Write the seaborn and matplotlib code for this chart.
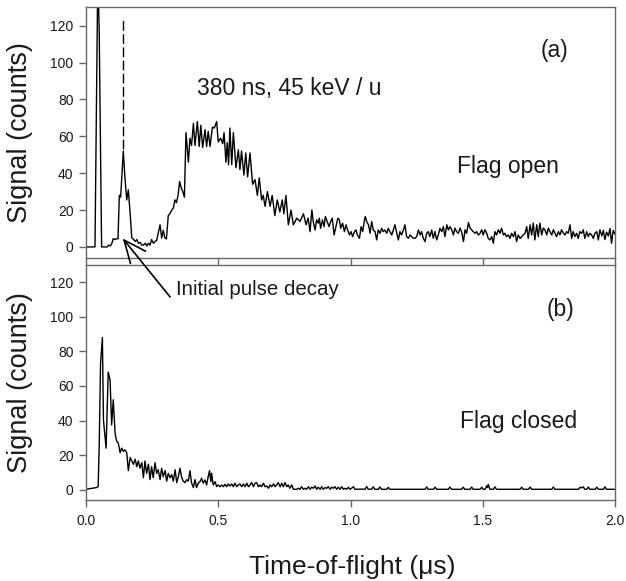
import numpy as np
import pandas as pd
import matplotlib
matplotlib.use("Agg")
import matplotlib.pyplot as plt
import seaborn as sns
from matplotlib.patches import ConnectionPatch

# ---------------- data (time in µs, signal in counts) ----------------
open_early = [
    (0.000, 0), (0.034, 0), (0.044, 140), (0.047, 135), (0.050, 116), (0.059, 0),
    (0.070, 0), (0.080, 0), (0.086, 1), (0.092, 0.5), (0.098, 2), (0.103, 4.5),
    (0.110, 4), (0.116, 4.5), (0.121, 4.4), (0.126, 28), (0.131, 27), (0.136, 40),
    (0.141, 52), (0.147, 38), (0.154, 25.5), (0.160, 31), (0.167, 18), (0.173, 5),
    (0.179, 4.2), (0.186, 3), (0.192, 4), (0.198, 2), (0.205, 2.5), (0.211, 1),
    (0.217, 1), (0.224, 2), (0.230, 0.5), (0.236, 2), (0.242, 1), (0.248, 4),
    (0.255, 2), (0.261, 3), (0.267, 3.5), (0.273, 7.5), (0.280, 12), (0.286, 4.8),
    (0.292, 9), (0.298, 5), (0.304, 4.3), (0.311, 17), (0.317, 18), (0.324, 20),
    (0.330, 21), (0.336, 25.5), (0.342, 24), (0.348, 28), (0.354, 35.5), (0.360, 32),
    (0.366, 30), (0.372, 27),
]
open_peak = [
    (0.378, 62), (0.387, 46), (0.393, 59), (0.399, 55), (0.406, 67), (0.412, 55),
    (0.421, 68), (0.428, 54.5), (0.434, 66), (0.441, 54), (0.450, 63.6), (0.456, 54.5),
    (0.462, 62.7), (0.469, 54.5), (0.478, 65), (0.485, 64.5), (0.494, 68), (0.500, 57),
    (0.509, 59), (0.517, 56), (0.522, 62), (0.529, 46), (0.534, 56.5), (0.539, 44.6),
    (0.544, 64.5), (0.551, 44.6), (0.557, 62), (0.567, 43), (0.576, 52.7), (0.582, 42),
    (0.588, 52), (0.597, 39), (0.604, 51), (0.611, 38), (0.620, 51), (0.630, 34),
    (0.639, 36.5), (0.648, 28), (0.655, 37.5), (0.664, 25.5), (0.670, 28), (0.677, 22),
    (0.686, 30), (0.696, 22), (0.704, 28), (0.714, 17), (0.723, 25.5), (0.733, 19),
    (0.742, 25.5), (0.748, 18), (0.756, 28), (0.765, 12), (0.775, 20), (0.784, 12),
    (0.797, 15.6), (0.809, 13.8), (0.822, 18), (0.832, 12), (0.840, 15.6), (0.847, 8.3),
]
open_tail1 = [
    (0.854, 20.1), (0.859, 13.8), (0.866, 9.2), (0.872, 14.7), (0.878, 12.9), (0.882, 15.6),
    (0.887, 10.1), (0.894, 14.7), (0.900, 11), (0.905, 16.5), (0.912, 13.8), (0.919, 11),
    (0.925, 13.8), (0.931, 15.6), (0.938, 6.5), (0.945, 11), (0.952, 15.6), (0.958, 14.7),
    (0.963, 10.1), (0.970, 12.9), (0.977, 8.3), (0.983, 12), (0.989, 9.2), (0.996, 6.5),
    (1.002, 8.3), (1.008, 5.6), (1.015, 8.3), (1.021, 9.2), (1.026, 6.5), (1.034, 4.7),
    (1.040, 11), (1.046, 8.3), (1.053, 14.7), (1.056, 16.5), (1.061, 13.8), (1.068, 12),
    (1.074, 7.4), (1.080, 13.8), (1.086, 9.2), (1.093, 8.3), (1.099, 3.8), (1.105, 9.2),
    (1.112, 7.4), (1.118, 10.1), (1.124, 8.3), (1.130, 9.2), (1.137, 7.4), (1.143, 10.1),
    (1.149, 8.3), (1.156, 6.5), (1.162, 9.2), (1.168, 12), (1.175, 7.4), (1.181, 3.8),
    (1.187, 8.3), (1.193, 6.5), (1.200, 9.2), (1.206, 12), (1.212, 5.6), (1.219, 4.7),
    (1.225, 6.5), (1.231, 5.6), (1.238, 4.7), (1.244, 4.7), (1.250, 5.6), (1.257, 9.2),
    (1.263, 6.5), (1.269, 8.3), (1.275, 4.7), (1.282, 2.9), (1.288, 7.4), (1.294, 8.3),
    (1.300, 5.6), (1.307, 9.2), (1.313, 4.7), (1.319, 8.3), (1.326, 3.8), (1.332, 6.5),
    (1.338, 10.1), (1.345, 8.3), (1.351, 11), (1.357, 5.6), (1.364, 12), (1.370, 9.2),
    (1.376, 11),
]
open_tail2 = [
    (1.383, 9.3), (1.389, 6.5), (1.395, 10.2), (1.401, 8.3), (1.408, 7.4), (1.414, 10.2),
    (1.420, 8.3), (1.427, 2.9), (1.433, 9.3), (1.439, 7.4), (1.446, 13.2), (1.452, 10.2),
    (1.458, 9.3), (1.464, 8.3), (1.471, 7.4), (1.477, 8.3), (1.483, 6.5), (1.490, 7.4),
    (1.496, 9.3), (1.502, 6.5), (1.508, 9.3), (1.515, 7.4), (1.521, 4.6), (1.527, 3.8),
    (1.534, 5.6), (1.540, 2), (1.546, 8.3), (1.552, 6.5), (1.559, 9.3), (1.565, 7.4),
    (1.571, 10.2), (1.578, 6.5), (1.584, 7.4), (1.590, 5.6), (1.597, 6.5), (1.603, 4.6),
    (1.609, 7.4), (1.616, 5.6), (1.622, 8.3), (1.628, 2.9), (1.634, 6.5), (1.641, 4.6),
    (1.647, 5.6), (1.653, 6.5), (1.660, 7.4), (1.666, 11.1), (1.672, 4.6), (1.679, 12),
    (1.685, 6.5), (1.691, 12.9), (1.697, 3.8), (1.704, 12), (1.710, 5.6), (1.716, 12.9),
    (1.723, 6.5), (1.729, 10.2), (1.735, 9.3), (1.742, 6.5), (1.748, 10.2), (1.754, 8.3),
    (1.761, 6.5), (1.767, 9.3), (1.773, 7.4), (1.779, 5.6), (1.786, 8.3), (1.792, 6.5),
    (1.798, 9.3), (1.805, 7.4), (1.811, 6.5), (1.817, 8.3), (1.823, 7.4), (1.830, 12),
    (1.836, 4.6), (1.842, 8.3), (1.848, 5.6), (1.855, 7.4), (1.861, 4.6), (1.867, 8.3),
    (1.874, 7.4), (1.880, 9.3), (1.886, 4.6), (1.893, 8.3), (1.899, 5.6), (1.905, 7.4),
    (1.912, 6.5), (1.918, 4.6), (1.924, 7.4), (1.931, 8.3), (1.937, 3.8), (1.943, 9.3),
    (1.950, 6), (1.956, 9), (1.962, 4), (1.968, 8), (1.975, 6), (1.981, 10),
    (1.987, 2), (1.993, 9), (2.000, 7),
]

closed_early = [
    (0.000, 0.2), (0.040, 1.2), (0.046, 1.8), (0.050, 25.9), (0.055, 73), (0.062, 88),
    (0.066, 40.3), (0.076, 24), (0.084, 68), (0.091, 63.4), (0.097, 37.5), (0.103, 52),
    (0.110, 32.6), (0.116, 28), (0.122, 27), (0.129, 21.4), (0.135, 24), (0.141, 22.2),
    (0.147, 23), (0.154, 21.4), (0.160, 11), (0.167, 18.6), (0.173, 16.6), (0.179, 14.7),
    (0.186, 17.6), (0.192, 13.3), (0.198, 16.6), (0.204, 12.4), (0.211, 15.6), (0.217, 6.9),
    (0.223, 16.6), (0.229, 9.4), (0.236, 14.7), (0.242, 5.8), (0.248, 13.3), (0.254, 6.9),
    (0.261, 15.6), (0.267, 9.4), (0.273, 11.5), (0.280, 5.8), (0.286, 12.4), (0.292, 7.5),
    (0.299, 11), (0.305, 4.9), (0.311, 9.4), (0.318, 6.9), (0.324, 8.7), (0.330, 4.9),
    (0.337, 11.5), (0.343, 4), (0.349, 7.5), (0.355, 12.4), (0.362, 6.9), (0.368, 4.9),
    (0.374, 4), (0.381, 5.8), (0.387, 4.9), (0.393, 11), (0.399, 4), (0.406, 1.2),
    (0.412, 5.8), (0.418, 1.2), (0.425, 4), (0.431, 4.6), (0.437, 6.6), (0.443, 3.7),
    (0.450, 5.6), (0.456, 2.7), (0.462, 7.5), (0.467, 11), (0.472, 4.6), (0.475, 9.5),
    (0.481, 2.7), (0.488, 4.6), (0.494, 1.8),
]
closed_mid = [
    (0.500, 2.7), (0.507, 1.7), (0.513, 2.7), (0.519, 1.7), (0.526, 3.1), (0.532, 1.7),
    (0.538, 3.3), (0.544, 2.1), (0.551, 3.3), (0.557, 1.7), (0.563, 3.7), (0.570, 1.7),
    (0.576, 2.7), (0.582, 3.3), (0.589, 1.7), (0.595, 3.3), (0.601, 1.7), (0.608, 3.7),
    (0.614, 1.7), (0.620, 2.7), (0.626, 4.1), (0.633, 1.7), (0.639, 3.7), (0.645, 4.1),
    (0.652, 1.7), (0.658, 2.7), (0.664, 1.7), (0.671, 3.7), (0.677, 1.7), (0.683, 2.1),
    (0.690, 0.8), (0.696, 2.7), (0.702, 1.7), (0.709, 3.3), (0.715, 1.7), (0.721, 2.7),
    (0.727, 4.1), (0.734, 1.7), (0.740, 3.7), (0.746, 1.7), (0.753, 4.1), (0.759, 1.7),
    (0.765, 2.7), (0.771, 0.8), (0.778, 2.7), (0.784, 0.2), (0.790, 0.2), (0.797, 0.2),
    (0.803, 0.8), (0.809, 0.2), (0.815, 1.7), (0.822, 0.2), (0.828, 0.8), (0.834, 0.2),
    (0.841, 1.7), (0.847, 0.2), (0.853, 1.4), (0.859, 0.8), (0.866, 2.1), (0.872, 0.2),
    (0.878, 1.4), (0.885, 0.2), (0.891, 1.7), (0.897, 0.2), (0.904, 1.2), (0.910, 0.8),
    (0.916, 1.7), (0.923, 0.2), (0.929, 1.4), (0.935, 0.8), (0.941, 1.7), (0.948, 0.2),
    (0.954, 1.4), (0.960, 0.2), (0.967, 1.7), (0.973, 0.2), (0.979, 0.8), (0.986, 0.2),
    (0.992, 1.4), (0.998, 0.2), (1.004, 0.8), (1.011, 1.7),
]
closed_tail = [
    (1.017, 0.2), (1.040, 0.3), (1.055, 0.2), (1.061, 1.8), (1.067, 0.2), (1.080, 0.3),
    (1.086, 1.6), (1.092, 0.2), (1.105, 0.2), (1.111, 1.5), (1.117, 0.2), (1.137, 0.2),
    (1.143, 1.3), (1.149, 0.2), (1.200, 0.2), (1.282, 0.2), (1.288, 1.5), (1.294, 0.2),
    (1.314, 0.2), (1.320, 1.4), (1.326, 0.2), (1.370, 0.2), (1.376, 1.5), (1.382, 0.2),
    (1.420, 0.2), (1.426, 1.4), (1.432, 0.2), (1.452, 0.2), (1.458, 1.5), (1.464, 0.2),
    (1.490, 0.2), (1.496, 1.4), (1.502, 0.2), (1.509, 0.2), (1.515, 2.2), (1.518, 1.2),
    (1.521, 3.0), (1.527, 0.2), (1.540, 0.2), (1.546, 1.6), (1.552, 0.2), (1.600, 0.2),
    (1.641, 0.2), (1.647, 1.4), (1.653, 0.2), (1.673, 0.2), (1.679, 1.5), (1.685, 0.2),
    (1.761, 0.2), (1.767, 1.5), (1.773, 0.2), (1.830, 0.2), (1.862, 0.2), (1.868, 1.4),
    (1.874, 1.0), (1.880, 1.6), (1.886, 0.2), (1.893, 0.2), (1.899, 1.5), (1.905, 0.2),
    (1.925, 0.2), (1.931, 1.4), (1.937, 0.2), (1.956, 0.2), (1.962, 1.6), (1.968, 0.2),
    (2.000, 0.2),
]

x_ticks = [0.0, 0.5, 1.0, 1.5, 2.0]
y_ticks = [0, 20, 40, 60, 80, 100, 120]
marker_time = 0.141          # dashed marker position (µs)
marker_span = (53, 125)      # dashed marker extent (counts)

# ---------------- frames ----------------
df_open = pd.DataFrame(open_early + open_peak + open_tail1 + open_tail2, columns=["t", "s"])
df_closed = pd.DataFrame(closed_early + closed_mid + closed_tail, columns=["t", "s"])

# ---------------- style ----------------
sns.set_style("ticks")
plt.rcParams["font.family"] = ["Liberation Sans", "DejaVu Sans"]
spine_col = "#666666"
txt_col = "#1a1a1a"
plt.rcParams.update({
    "axes.edgecolor": spine_col, "axes.linewidth": 1.0,
    "xtick.color": spine_col, "ytick.color": spine_col,
    "xtick.labelcolor": txt_col, "ytick.labelcolor": txt_col,
    "xtick.major.size": 5, "ytick.major.size": 5,
    "xtick.major.width": 1.0, "ytick.major.width": 1.0,
    "xtick.labelsize": 10, "ytick.labelsize": 10,
    "xtick.major.pad": 5, "ytick.major.pad": 4,
})

fig = plt.figure(figsize=(6.26, 5.81), dpi=100)
W, H = 626, 581
ax1 = fig.add_axes([86 / W, 1 - 258 / H, 529 / W, 250.7 / H])
ax2 = fig.add_axes([86 / W, 1 - 500 / H, 529 / W, 235 / H])

sns.lineplot(data=df_open, x="t", y="s", ax=ax1, color="black", lw=1.0,
             estimator=None, sort=True)
sns.lineplot(data=df_closed, x="t", y="s", ax=ax2, color="black", lw=1.0,
             estimator=None, sort=True)

for ax in (ax1, ax2):
    ax.set_xlim(0, 2.0)
    ax.set_ylim(-6, 130)
    ax.set_xticks(x_ticks)
    ax.set_yticks(y_ticks)
    for sp in ax.spines.values():
        sp.set_visible(True)
        sp.set_color(spine_col)
    ax.tick_params(direction="out", top=False, right=False)
    ax.set_ylabel("Signal (counts)", fontsize=19.5, color=txt_col)
    ax.yaxis.set_label_coords(-0.100, 0.5)

ax1.set_xticklabels([])
ax1.set_xlabel("")
ax2.set_xticklabels([f"{v:.1f}" for v in x_ticks])
ax2.set_xlabel("Time-of-flight (μs)", fontsize=19, color=txt_col)
ax2.xaxis.set_label_coords(0.503, -0.235)

# dashed marker
ax1.vlines(marker_time, *marker_span, colors="black", lw=1.0,
           linestyles=(0, (7, 2.5)))

# annotations
ax1.text(0.418, 82.5, "380 ns, 45 keV / u", fontsize=16.5, color=txt_col,
         ha="left", va="baseline")
ax1.text(1.77, 103, "(a)", fontsize=16.5, color=txt_col, ha="center", va="baseline")
ax1.text(1.401, 40, "Flag open", fontsize=16.5, color=txt_col, ha="left", va="baseline")
ax2.text(1.795, 100.5, "(b)", fontsize=16.5, color=txt_col, ha="center", va="baseline")
ax2.text(1.414, 35.5, "Flag closed", fontsize=16.5, color=txt_col, ha="left", va="baseline")
ax2.text(0.340, 112.7, "Initial pulse decay", fontsize=14.8, color=txt_col,
         ha="left", va="baseline")

arrow = ConnectionPatch(xyA=(0.318, 111.5), coordsA=ax2.transData,
                        xyB=(0.139, 4.6), coordsB=ax1.transData,
                        arrowstyle="->,head_length=0.8,head_width=0.35",
                        mutation_scale=20, lw=1.2, color="black",
                        shrinkA=0, shrinkB=0)
fig.add_artist(arrow)

fig.savefig("out.png", dpi=100)
